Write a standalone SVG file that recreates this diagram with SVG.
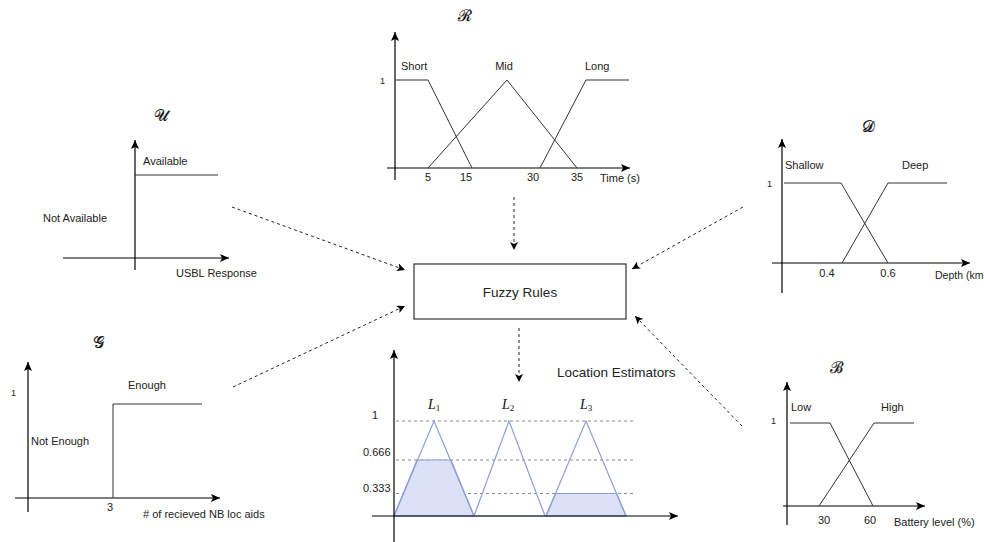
<svg xmlns="http://www.w3.org/2000/svg" width="984" height="542" viewBox="0 0 984 542">
<defs>
<style>
.ax{stroke:#000;stroke-width:1.2;fill:none}
.mf{stroke:#333;stroke-width:1;fill:none}
.t{font-family:"Liberation Sans",Arial,sans-serif;font-size:11px;fill:#222}
.s{font-family:"Liberation Sans",Arial,sans-serif;font-size:9px;fill:#222}
.big{font-family:"Liberation Sans",Arial,sans-serif;font-size:13.5px;fill:#222}
.cal{font-family:"DejaVu Serif","Liberation Serif",serif;font-size:16px;fill:#111;stroke:#111;stroke-width:0.2}
.m{text-anchor:middle}
.dash{stroke:#222;stroke-width:1;stroke-dasharray:3 3;fill:none}
.grid{stroke:#888;stroke-width:1;stroke-dasharray:3 3;fill:none}
.tri{stroke:#8e9fd4;stroke-width:1.2;fill:none}
.fill{stroke:#8e9fd4;stroke-width:1.2;fill:#dbe1f7}
.li{font-family:"Liberation Serif","DejaVu Serif",serif;font-size:14px;font-style:italic;fill:#111}
</style>
<marker id="axa" markerUnits="userSpaceOnUse" markerWidth="10" markerHeight="8" refX="9" refY="4" orient="auto">
<path d="M0,0 L9,4 L0,8 L2,4 Z" fill="#000"/>
</marker>
<marker id="da" markerUnits="userSpaceOnUse" markerWidth="9" markerHeight="8" refX="8" refY="4" orient="auto">
<path d="M0,0 L8,4 L0,8 L2,4 Z" fill="#000"/>
</marker>
</defs>
<rect width="984" height="542" fill="#fff"/>

<g id="connectors">
<line class="dash" x1="232" y1="207" x2="405" y2="270" marker-end="url(#da)"/>
<line class="dash" x1="514" y1="197" x2="514" y2="250" marker-end="url(#da)"/>
<line class="dash" x1="743" y1="207" x2="632" y2="269" marker-end="url(#da)"/>
<line class="dash" x1="233" y1="387" x2="405" y2="306" marker-end="url(#da)"/>
<line class="dash" x1="519" y1="328" x2="519" y2="382" marker-end="url(#da)"/>
<line class="dash" x1="742" y1="426" x2="635" y2="316" marker-end="url(#da)"/>
</g>

<g id="fuzzy-rules">
<rect x="414" y="264" width="212" height="55" fill="#fff" stroke="#333" stroke-width="1.2"/>
<text class="big m" x="520" y="297">Fuzzy Rules</text>
</g>

<g id="chart-R">
<text class="cal m" x="465" y="21">ℛ</text>
<line class="ax" x1="395" y1="180" x2="395" y2="32" marker-end="url(#axa)"/>
<line class="ax" x1="387" y1="168" x2="630" y2="168" marker-end="url(#axa)"/>
<polyline class="mf" points="396,80 428,80 472,168"/>
<polyline class="mf" points="428,168 507,80 577,168"/>
<polyline class="mf" points="540,168 586,80 629,80"/>
<text class="s" x="380" y="84">1</text>
<text class="t" x="401" y="70">Short</text>
<text class="t m" x="504" y="70">Mid</text>
<text class="t" x="585" y="70">Long</text>
<text class="t m" x="428" y="181">5</text>
<text class="t m" x="466" y="181">15</text>
<text class="t m" x="533" y="181">30</text>
<text class="t m" x="577" y="181">35</text>
<text class="t" x="600" y="182">Time (s)</text>
</g>

<g id="chart-U">
<text class="cal m" x="161" y="121">𝒰</text>
<line class="ax" x1="135" y1="270" x2="135" y2="140" marker-end="url(#axa)"/>
<line class="ax" x1="63" y1="258" x2="229" y2="258" marker-end="url(#axa)"/>
<line class="mf" x1="135" y1="175" x2="218" y2="175"/>
<text class="t" x="143" y="165">Available</text>
<text class="t" x="43" y="222">Not Available</text>
<text class="t" x="176" y="277">USBL Response</text>
</g>

<g id="chart-D">
<text class="cal m" x="868" y="132">𝒟</text>
<line class="ax" x1="782" y1="293" x2="782" y2="139" marker-end="url(#axa)"/>
<line class="ax" x1="772" y1="263" x2="970" y2="263" marker-end="url(#axa)"/>
<polyline class="mf" points="784,183 841,183 888,263"/>
<polyline class="mf" points="842,263 888,183 947,183"/>
<text class="s" x="767" y="187">1</text>
<text class="t" x="785" y="169">Shallow</text>
<text class="t" x="902" y="169">Deep</text>
<text class="t m" x="827" y="277">0.4</text>
<text class="t m" x="888" y="277">0.6</text>
<text class="t" x="935" y="279" style="font-size:10.5px">Depth (km</text>
</g>

<g id="chart-G">
<text class="cal m" x="98" y="348">𝒢</text>
<line class="ax" x1="28" y1="512" x2="28" y2="362" marker-end="url(#axa)"/>
<line class="ax" x1="15" y1="498" x2="220" y2="498" marker-end="url(#axa)"/>
<polyline class="mf" points="113,498 113,404 202,404"/>
<text class="s" x="11" y="396">1</text>
<text class="t" x="128" y="389">Enough</text>
<text class="t" x="31" y="445">Not Enough</text>
<text class="t m" x="110" y="511">3</text>
<text class="t" x="143" y="518"># of recieved NB loc aids</text>
</g>

<g id="chart-B">
<text class="cal m" x="836" y="373">ℬ</text>
<line class="ax" x1="787" y1="525" x2="787" y2="382" marker-end="url(#axa)"/>
<line class="ax" x1="783" y1="506" x2="925" y2="506" marker-end="url(#axa)"/>
<polyline class="mf" points="790,423 830,423 873,506"/>
<polyline class="mf" points="819,506 874,423 914,423"/>
<text class="s" x="771" y="424">1</text>
<text class="t" x="791" y="411">Low</text>
<text class="t" x="881" y="411">High</text>
<text class="t m" x="824" y="524">30</text>
<text class="t m" x="870" y="524">60</text>
<text class="t" x="894" y="526">Battery level (%)</text>
</g>

<g id="chart-L">
<line class="grid" x1="396" y1="421" x2="633" y2="421"/>
<line class="grid" x1="396" y1="460" x2="633" y2="460"/>
<line class="grid" x1="396" y1="493.5" x2="633" y2="493.5"/>
<polygon class="fill" points="394,516 417,460 451,460 474,516"/>
<polygon class="fill" points="546,516 555.5,493.5 616.5,493.5 626,516"/>
<polyline class="tri" points="394,516 434,421 474,516"/>
<polyline class="tri" points="474,516 509,421 545,516"/>
<polyline class="tri" points="546,516 586,421 626,516"/>
<line class="tri" x1="394" y1="516" x2="626" y2="516"/>
<line class="ax" x1="394" y1="545" x2="394" y2="350" marker-end="url(#axa)"/>
<line class="ax" x1="372" y1="516" x2="678" y2="516" marker-end="url(#axa)"/>
<text class="t m" x="375" y="419">1</text>
<text class="t" x="363" y="456">0.666</text>
<text class="t" x="363" y="492">0.333</text>
<text class="li" x="428" y="409">L<tspan font-size="9" font-style="normal" dy="2">1</tspan></text>
<text class="li" x="502" y="409">L<tspan font-size="9" font-style="normal" dy="2">2</tspan></text>
<text class="li" x="580" y="409">L<tspan font-size="9" font-style="normal" dy="2">3</tspan></text>
<text class="big" x="557" y="377">Location Estimators</text>
</g>
</svg>
